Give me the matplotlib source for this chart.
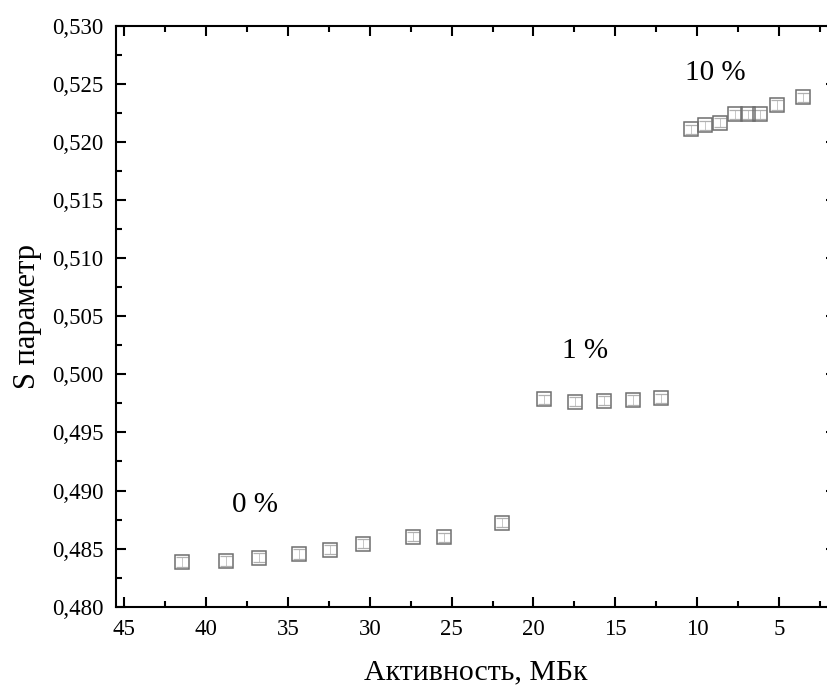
import matplotlib
matplotlib.use('Agg')
from matplotlib import pyplot as plt
from matplotlib.ticker import MultipleLocator, FuncFormatter

plt.rcParams['font.family'] = ['Liberation Serif', 'DejaVu Serif']
plt.rcParams['mathtext.fontset'] = 'stix'

# Activity (MBq) and S parameter for the three concentrations
act_0 = [41.44, 38.79, 36.77, 34.31, 32.40, 30.42, 27.33, 25.44, 21.90]
s_0 = [0.48385, 0.48393, 0.48422, 0.48454, 0.48491, 0.48542, 0.48602, 0.48597, 0.48723]

act_1 = [19.35, 17.46, 15.69, 13.93, 12.21]
s_1 = [0.49785, 0.49764, 0.49773, 0.49779, 0.49793]

act_10 = [10.37, 9.50, 8.62, 7.71, 6.91, 6.18, 5.12, 3.55]
s_10 = [0.52108, 0.52143, 0.52165, 0.52238, 0.52238, 0.52238, 0.52318, 0.52384]

s_err = 0.0004

group_labels = ['0 %', '1 %', '10 %']
label_pos = [(37.0, 0.48875), (16.85, 0.50203), (8.91, 0.52590)]

fig = plt.figure(figsize=(8.27, 6.89), dpi=100)
ax = fig.add_axes([0.1403, 0.1194, 0.871, 0.8433])

markColor = '#6e6e6e'
for xs, ys in [(act_0, s_0), (act_1, s_1), (act_10, s_10)]:
    ax.errorbar(xs, ys, yerr=[s_err] * len(xs), fmt='none', ecolor='#b0b0b0',
                elinewidth=0.5, capsize=4.2, capthick=0.9, zorder=2)
    ax.plot(xs, ys, 's', ms=9.5, mfc='none', mec=markColor, mew=1.1, ls='none', zorder=3)

for txt, (tx, ty) in zip(group_labels, label_pos):
    ax.text(tx, ty, txt, fontsize=21, ha='center', va='center')

ax.set_xlim(45.5, 1.5)
ax.set_ylim(0.480, 0.530)

ax.xaxis.set_major_locator(MultipleLocator(5))
ax.xaxis.set_minor_locator(MultipleLocator(2.5))
ax.yaxis.set_major_locator(MultipleLocator(0.005))
ax.yaxis.set_minor_locator(MultipleLocator(0.0025))
ax.yaxis.set_major_formatter(FuncFormatter(lambda v, p: f'{v:.3f}'.replace('.', ',')))
ax.xaxis.set_major_formatter(FuncFormatter(lambda v, p: f'{v:.0f}'))

ax.tick_params(which='both', direction='in', top=True, right=True, width=1.5)
ax.tick_params(which='major', length=7.5, labelsize=16.5, pad=9)
ax.tick_params(which='minor', length=4)
for sp in ax.spines.values():
    sp.set_linewidth(1.5)

ax.set_xlabel('Активность, МБк', fontsize=21.5, labelpad=14)
ax.set_ylabel('S параметр', fontsize=22, labelpad=7)

fig.savefig('out.png', dpi=100)
